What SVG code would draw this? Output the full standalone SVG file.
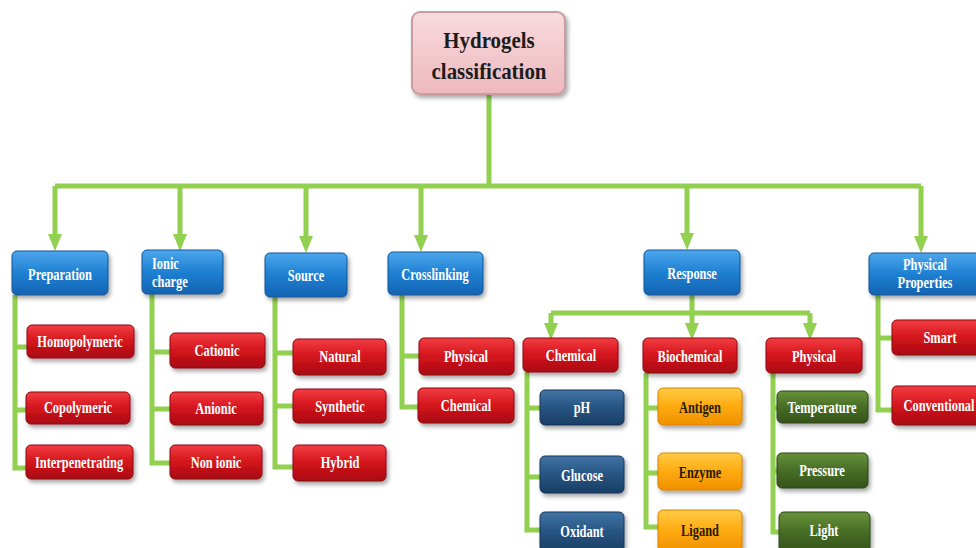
<svg xmlns="http://www.w3.org/2000/svg" xmlns:xlink="http://www.w3.org/1999/xlink" width="976" height="548" viewBox="0 0 976 548">
<defs>
<linearGradient id="gBlue" x1="0" y1="0" x2="0" y2="1"><stop offset="0" stop-color="#4ba6ec"/><stop offset="0.5" stop-color="#1f80d2"/><stop offset="1" stop-color="#1463b2"/></linearGradient>
<linearGradient id="gRed" x1="0" y1="0" x2="0" y2="1"><stop offset="0" stop-color="#f23d42"/><stop offset="0.5" stop-color="#d3141c"/><stop offset="1" stop-color="#a80c12"/></linearGradient>
<linearGradient id="gNavy" x1="0" y1="0" x2="0" y2="1"><stop offset="0" stop-color="#4174a6"/><stop offset="0.5" stop-color="#265482"/><stop offset="1" stop-color="#1a3e65"/></linearGradient>
<linearGradient id="gOrange" x1="0" y1="0" x2="0" y2="1"><stop offset="0" stop-color="#ffcb45"/><stop offset="0.5" stop-color="#ffaa10"/><stop offset="1" stop-color="#f09000"/></linearGradient>
<linearGradient id="gGreen" x1="0" y1="0" x2="0" y2="1"><stop offset="0" stop-color="#66923a"/><stop offset="0.5" stop-color="#476d26"/><stop offset="1" stop-color="#34531b"/></linearGradient>
<linearGradient id="gPink" x1="0" y1="0" x2="0" y2="1"><stop offset="0" stop-color="#f8dadd"/><stop offset="1" stop-color="#edb9bf"/></linearGradient>
<filter id="sh" x="-10%" y="-10%" width="130%" height="140%"><feDropShadow dx="2" dy="3" stdDeviation="2" flood-color="#000" flood-opacity="0.35"/></filter>
<path id="ah" d="M-7,-17 L7,-17 L0,0 Z" fill="#92d050"/>
</defs>
<style>
.box{filter:url(#sh);}
.blue{fill:url(#gBlue);stroke:#115598;stroke-width:1;}
.red{fill:url(#gRed);stroke:#8c0a0f;stroke-width:1;}
.navy{fill:url(#gNavy);stroke:#16355a;stroke-width:1;}
.orange{fill:url(#gOrange);stroke:#d88200;stroke-width:1;}
.green{fill:url(#gGreen);stroke:#2c4716;stroke-width:1;}
.pink{fill:url(#gPink);stroke:#c99ca2;stroke-width:2;}
.t{font-family:"Liberation Serif","Times New Roman",serif;font-weight:bold;font-size:17px;fill:#ffffff;text-anchor:middle;}
.s{text-anchor:start;}
.dk{fill:#2a1a00;}
.title{font-family:"Liberation Serif","Times New Roman",serif;font-weight:bold;font-size:22px;fill:#1c1c1c;text-anchor:middle;}
.c{fill:none;stroke:#92d050;stroke-width:5;stroke-linejoin:miter;}
</style>

<g id="connectors">
<path class="c" d="M489,94 V186 M55,186 H921 M55,186 V236 M180,186 V236 M306,186 V236 M421,186 V236 M687,186 V236 M921,186 V236"/>
<use xlink:href="#ah" x="55" y="251"/>
<use xlink:href="#ah" x="180" y="251"/>
<use xlink:href="#ah" x="306" y="253"/>
<use xlink:href="#ah" x="421" y="252"/>
<use xlink:href="#ah" x="687" y="250"/>
<use xlink:href="#ah" x="921" y="253"/>
<path class="c" d="M15,295 V468 H28 M15,347 H28 M15,410 H27"/>
<path class="c" d="M152,294 V463 H171 M152,352 H171 M152,409 H171"/>
<path class="c" d="M275,297 V467 H294 M275,353 H294 M275,406 H294"/>
<path class="c" d="M402,295 V407 H419 M402,356 H420"/>
<path class="c" d="M692,295 V313 M551,313 H810 M551,313 V325 M692,313 V325 M810,313 V325"/>
<use xlink:href="#ah" x="551" y="340"/>
<use xlink:href="#ah" x="692" y="340"/>
<use xlink:href="#ah" x="810" y="340"/>
<path class="c" d="M527,372 V530 H541 M527,408 H541 M527,477 H541"/>
<path class="c" d="M646,373 V527 H659 M646,408 H659 M646,473 H659"/>
<path class="c" d="M773,373 V532 H780 M773,408 H778 M773,471 H778"/>
<path class="c" d="M878,295 V410 H893 M878,338 H893"/>
</g>

<g id="n-root"><rect class="box pink" x="412" y="12" width="153" height="82" rx="8"/><text class="title" transform="translate(489,48) scale(0.95,1.05)">Hydrogels</text><text class="title" transform="translate(489,79) scale(0.95,1.05)">classification</text></g>

<g id="n-preparation"><rect class="box blue" x="12" y="251" width="96" height="44" rx="5"/><text class="t" transform="translate(60,280) scale(0.73,1)">Preparation</text></g>
<g id="n-ionic"><rect class="box blue" x="142" y="250" width="81" height="44" rx="5"/><text class="t s" transform="translate(152,269) scale(0.73,1)">Ionic</text><text class="t s" transform="translate(152,287) scale(0.73,1)">charge</text></g>
<g id="n-source"><rect class="box blue" x="265" y="253" width="82" height="44" rx="5"/><text class="t" transform="translate(306,281) scale(0.73,1)">Source</text></g>
<g id="n-crosslinking"><rect class="box blue" x="388" y="252" width="95" height="43" rx="5"/><text class="t" transform="translate(435,280) scale(0.73,1)">Crosslinking</text></g>
<g id="n-response"><rect class="box blue" x="644" y="250" width="96" height="45" rx="5"/><text class="t" transform="translate(692,279) scale(0.73,1)">Response</text></g>
<g id="n-physprops"><rect class="box blue" x="869" y="253" width="115" height="42" rx="5"/><text class="t" transform="translate(925,270) scale(0.73,1)">Physical</text><text class="t" transform="translate(925,288) scale(0.73,1)">Properties</text></g>

<g id="n-homopolymeric"><rect class="box red" x="27" y="325" width="107" height="33" rx="5"/><text class="t" transform="translate(80,347) scale(0.73,1)">Homopolymeric</text></g>
<g id="n-copolymeric"><rect class="box red" x="26" y="392" width="104" height="32" rx="5"/><text class="t" transform="translate(78,413) scale(0.73,1)">Copolymeric</text></g>
<g id="n-interpenetrating"><rect class="box red" x="26" y="445" width="107" height="34" rx="5"/><text class="t" transform="translate(79,468) scale(0.73,1)">Interpenetrating</text></g>

<g id="n-cationic"><rect class="box red" x="170" y="333" width="95" height="35" rx="5"/><text class="t" transform="translate(217,356) scale(0.73,1)">Cationic</text></g>
<g id="n-anionic"><rect class="box red" x="170" y="392" width="93" height="33" rx="5"/><text class="t" transform="translate(216,414) scale(0.73,1)">Anionic</text></g>
<g id="n-nonionic"><rect class="box red" x="170" y="445" width="92" height="34" rx="5"/><text class="t" transform="translate(216,468) scale(0.73,1)">Non ionic</text></g>

<g id="n-natural"><rect class="box red" x="293" y="339" width="93" height="36" rx="5"/><text class="t" transform="translate(340,362) scale(0.73,1)">Natural</text></g>
<g id="n-synthetic"><rect class="box red" x="293" y="389" width="93" height="34" rx="5"/><text class="t" transform="translate(340,412) scale(0.73,1)">Synthetic</text></g>
<g id="n-hybrid"><rect class="box red" x="293" y="445" width="93" height="36" rx="5"/><text class="t" transform="translate(340,468) scale(0.73,1)">Hybrid</text></g>

<g id="n-cl-physical"><rect class="box red" x="419" y="338" width="95" height="37" rx="5"/><text class="t" transform="translate(466,362) scale(0.73,1)">Physical</text></g>
<g id="n-cl-chemical"><rect class="box red" x="418" y="388" width="96" height="35" rx="5"/><text class="t" transform="translate(466,411) scale(0.73,1)">Chemical</text></g>

<g id="n-r-chemical"><rect class="box red" x="523" y="338" width="95" height="34" rx="5"/><text class="t" transform="translate(571,361) scale(0.73,1)">Chemical</text></g>
<g id="n-r-biochemical"><rect class="box red" x="643" y="338" width="94" height="35" rx="5"/><text class="t" transform="translate(690,362) scale(0.73,1)">Biochemical</text></g>
<g id="n-r-physical"><rect class="box red" x="766" y="338" width="96" height="35" rx="5"/><text class="t" transform="translate(814,362) scale(0.73,1)">Physical</text></g>

<g id="n-smart"><rect class="box red" x="892" y="320" width="95" height="35" rx="5"/><text class="t" transform="translate(940,343) scale(0.73,1)">Smart</text></g>
<g id="n-conventional"><rect class="box red" x="892" y="386" width="95" height="39" rx="5"/><text class="t" transform="translate(939,411) scale(0.73,1)">Conventional</text></g>

<g id="n-ph"><rect class="box navy" x="540" y="390" width="84" height="35" rx="5"/><text class="t" transform="translate(582,413) scale(0.73,1)">pH</text></g>
<g id="n-glucose"><rect class="box navy" x="540" y="456" width="84" height="37" rx="5"/><text class="t" transform="translate(582,481) scale(0.73,1)">Glucose</text></g>
<g id="n-oxidant"><rect class="box navy" x="540" y="512" width="84" height="40" rx="5"/><text class="t" transform="translate(582,537) scale(0.73,1)">Oxidant</text></g>

<g id="n-antigen"><rect class="box orange" x="658" y="388" width="84" height="37" rx="5"/><text class="t dk" transform="translate(700,413) scale(0.73,1)">Antigen</text></g>
<g id="n-enzyme"><rect class="box orange" x="658" y="453" width="84" height="37" rx="5"/><text class="t dk" transform="translate(700,478) scale(0.73,1)">Enzyme</text></g>
<g id="n-ligand"><rect class="box orange" x="658" y="510" width="84" height="42" rx="5"/><text class="t dk" transform="translate(700,536) scale(0.73,1)">Ligand</text></g>

<g id="n-temperature"><rect class="box green" x="777" y="391" width="91" height="32" rx="5"/><text class="t" transform="translate(822,413) scale(0.73,1)">Temperature</text></g>
<g id="n-pressure"><rect class="box green" x="777" y="453" width="91" height="35" rx="5"/><text class="t" transform="translate(822,476) scale(0.73,1)">Pressure</text></g>
<g id="n-light"><rect class="box green" x="779" y="512" width="91" height="40" rx="5"/><text class="t" transform="translate(824,536) scale(0.73,1)">Light</text></g>
</svg>
